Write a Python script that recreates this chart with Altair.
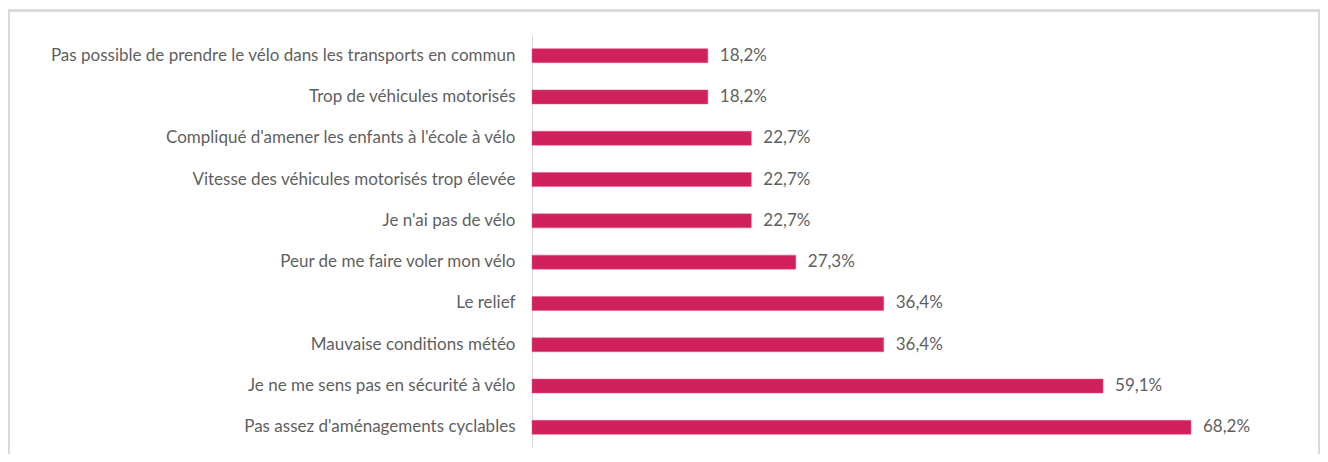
import altair as alt
import pandas as pd

categories = [
    "Pas possible de prendre le vélo dans les transports en commun",
    "Trop de véhicules motorisés",
    "Compliqué d'amener les enfants à l'école à vélo",
    "Vitesse des véhicules motorisés trop élevée",
    "Je n'ai pas de vélo",
    "Peur de me faire voler mon vélo",
    "Le relief",
    "Mauvaise conditions météo",
    "Je ne me sens pas en sécurité à vélo",
    "Pas assez d'aménagements cyclables",
]
values = [18.2, 18.2, 22.7, 22.7, 22.7, 27.3, 36.4, 36.4, 59.1, 68.2]
labels = ["18,2%", "18,2%", "22,7%", "22,7%", "22,7%", "27,3%", "36,4%", "36,4%", "59,1%", "68,2%"]

df = pd.DataFrame({"cat": categories, "val": values, "lab": labels})

FONT = "Lato"
W, H = 773, 413

y_enc = alt.Y(
    "cat:N",
    sort=categories,
    title=None,
    scale=alt.Scale(paddingInner=0.66, paddingOuter=0.33),
    axis=alt.Axis(
        ticks=False,
        domainColor="#d9d9d9",
        domainWidth=1,
        labelFont=FONT,
        labelFontSize=17,
        labelColor="#5f5f5f",
        labelPadding=17,
        labelLimit=700,
    ),
)
x_enc = alt.X("val:Q", title=None, scale=alt.Scale(domain=[0, 80]), axis=None)

bars = alt.Chart(df).mark_bar(color="#D0215C", stroke="#e05a85", strokeWidth=0.5).encode(x=x_enc, y=y_enc)
text = alt.Chart(df).mark_text(
    align="left", dx=12, font=FONT, fontSize=17, color="#5f5f5f"
).encode(x=x_enc, y=y_enc, text="lab:N")

border = alt.Chart(df).mark_rect(
    fill="transparent", stroke="#d9d9d9", strokeWidth=1.5
).encode(
    x=alt.value(-523.5), x2=alt.value(787.5), y=alt.value(-24.5), y2=alt.value(460)
)

chart = (
    alt.layer(border, bars, text)
    .properties(
        width=W,
        height=H,
        background="white",
        autosize=alt.AutoSizeParams(type="none"),
        padding={"left": 524, "top": 27, "right": 15, "bottom": 6},
    )
    .configure_view(strokeWidth=0, stroke="transparent")
)

chart.save("out.html", embed_options={"renderer": "svg", "actions": False})
